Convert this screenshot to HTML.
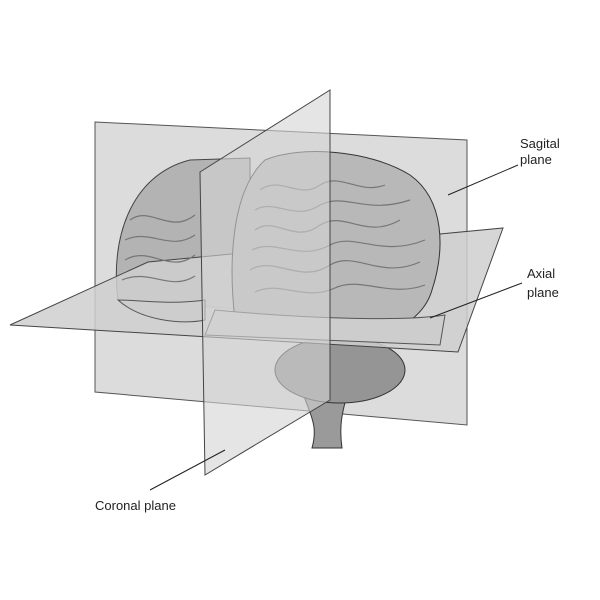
<!DOCTYPE html>
<html><head><style>
html,body{margin:0;padding:0;background:#fff;width:600px;height:600px;overflow:hidden}
text{font-family:"Liberation Sans",sans-serif;font-size:13px;fill:#222}
</style></head><body>
<svg width="600" height="600" viewBox="0 0 600 600">
<rect width="600" height="600" fill="#fff"/>
<polygon points="95,122 467,140 467,425 95,392" fill="#dcdcdc" stroke="#555" stroke-width="1"/>
<path d="M118,300 C110,240 130,175 190,160 L250,158 L250,310 Z" fill="#b3b3b3" stroke="#444"/>
<path d="M300,380 C305,410 320,420 312,448 L342,448 C338,420 345,405 348,390 Z" fill="#9a9a9a" stroke="#333"/>
<ellipse cx="340" cy="370" rx="65" ry="33" fill="#959595" stroke="#333"/>
<polygon points="10,325 148,262 503,228 458,352" fill="#cfcfcf" fill-opacity="0.85" stroke="#444" stroke-width="1"/>
<path d="M235,320 C228,260 232,190 265,160 C300,145 370,150 410,175 C445,200 445,250 432,290 C425,315 400,330 380,335 Z" fill="#b8b8b8" stroke="#333"/>
<path d="M205,335 L440,345 L445,315 C400,322 300,318 215,310 Z" fill="#cdcdcd" stroke="#555"/>
<path d="M118,300 C140,320 180,325 205,320 L205,300 C170,305 140,300 118,300 Z" fill="#cdcdcd" stroke="#555"/>
<g stroke="#777" fill="none" stroke-width="1.2">
<path d="M260,190 C280,175 300,200 320,185 C340,172 360,195 385,185"/>
<path d="M255,210 C275,198 295,222 320,205 C345,192 365,215 410,200"/>
<path d="M255,230 C275,215 295,245 320,225 C345,210 365,240 400,220"/>
<path d="M252,250 C275,238 300,262 330,245 C355,232 380,258 425,240"/>
<path d="M250,270 C275,255 300,285 330,265 C355,250 380,280 420,262"/>
<path d="M255,292 C280,280 305,302 335,288 C360,276 390,298 425,285"/>
<path d="M130,220 C150,205 170,235 195,215"/>
<path d="M125,240 C150,228 170,252 195,235"/>
<path d="M125,260 C150,245 170,275 195,255"/>
<path d="M122,280 C150,268 170,292 195,276"/>
</g>
<polygon points="200,172 330,90 330,400 205,475" fill="#d4d4d4" fill-opacity="0.6" stroke="#444" stroke-width="1"/>
<line x1="518" y1="165" x2="448" y2="195" stroke="#222"/>
<line x1="522" y1="283" x2="430" y2="318" stroke="#222"/>
<line x1="150" y1="490" x2="225" y2="450" stroke="#222"/>
<text x="520" y="148">Sagital</text>
<text x="520" y="164">plane</text>
<text x="527" y="278">Axial</text>
<text x="527" y="297">plane</text>
<text x="95" y="510">Coronal plane</text>
</svg>
</body></html>
